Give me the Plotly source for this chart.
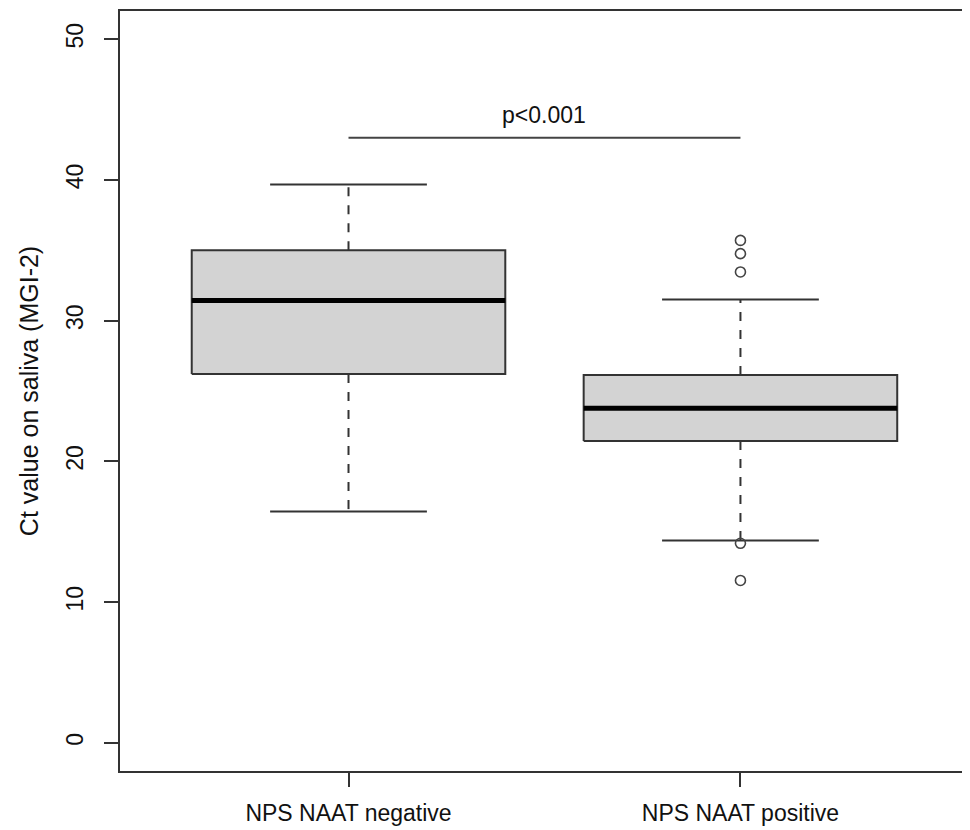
import plotly.graph_objects as go

categories = ["NPS NAAT negative", "NPS NAAT positive"]
positions = [1, 2]
q1 = [26.2, 21.45]
median = [31.43, 23.78]
q3 = [35.0, 26.14]
whisker_low = [16.43, 14.37]
whisker_high = [39.67, 31.5]
outliers_pos = [35.7, 34.76, 33.46, 14.18, 11.54]
p_text = "p<0.001"
p_y = 43.0
y_ticks = [0, 10, 20, 30, 40, 50]

FONT = "Liberation Sans, Arial, sans-serif"
half = 0.4
cap = 0.2
line_col = "#333333"
txt_col = "#111111"

fig = go.Figure()
for i, x in enumerate(positions):
    fig.add_trace(go.Scatter(
        x=[x - half, x + half, x + half, x - half, x - half],
        y=[q1[i], q1[i], q3[i], q3[i], q1[i]],
        mode="lines", fill="toself", fillcolor="#d3d3d3",
        line=dict(color=line_col, width=2), hoverinfo="skip"))
    fig.add_trace(go.Scatter(
        x=[x - half, x + half], y=[median[i], median[i]],
        mode="lines", line=dict(color="#000000", width=5), hoverinfo="skip"))
    fig.add_trace(go.Scatter(
        x=[x, x, None, x, x],
        y=[q3[i], whisker_high[i], None, q1[i], whisker_low[i]],
        mode="lines", line=dict(color=line_col, width=2, dash="dash"), hoverinfo="skip"))
    fig.add_trace(go.Scatter(
        x=[x - cap, x + cap, None, x - cap, x + cap],
        y=[whisker_high[i], whisker_high[i], None, whisker_low[i], whisker_low[i]],
        mode="lines", line=dict(color=line_col, width=2), hoverinfo="skip"))

fig.add_trace(go.Scatter(
    x=[positions[1]] * len(outliers_pos), y=outliers_pos, mode="markers",
    marker=dict(symbol="circle-open", size=10, color="#444444", line=dict(width=1.6)),
    hoverinfo="skip"))

fig.add_trace(go.Scatter(
    x=[positions[0], positions[1]], y=[p_y, p_y], mode="lines",
    line=dict(color="#444444", width=2), hoverinfo="skip"))
fig.add_annotation(x=(positions[0] + positions[1]) / 2, y=p_y, text=p_text,
                   showarrow=False, yanchor="bottom", yshift=8,
                   font=dict(family=FONT, size=23, color=txt_col))

fig.update_layout(
    width=962, height=822,
    margin=dict(l=112, r=1, t=1, b=59),
    paper_bgcolor="white", plot_bgcolor="white",
    showlegend=False,
    font=dict(family=FONT, size=23, color=txt_col),
)
fig.update_xaxes(
    range=[0.417, 2.578], tickvals=positions, ticktext=categories,
    showgrid=False, zeroline=False,
    showline=True, mirror=True, linecolor=line_col, linewidth=2,
    ticks="outside", ticklen=14, tickwidth=2, tickcolor=line_col,
    ticklabelstandoff=6,
    tickfont=dict(family=FONT, size=23, color=txt_col),
)
fig.update_yaxes(
    range=[-2, 52], tickvals=y_ticks, tickangle=-90,
    showgrid=False, zeroline=False,
    showline=True, mirror=True, linecolor=line_col, linewidth=2,
    ticks="outside", ticklen=14, tickwidth=2, tickcolor=line_col,
    ticklabelstandoff=12,
    tickfont=dict(family=FONT, size=23, color=txt_col),
    title=dict(text="Ct value on saliva (MGI-2)", standoff=16,
               font=dict(family=FONT, size=25, color=txt_col)),
)

fig.write_html("out.html")
